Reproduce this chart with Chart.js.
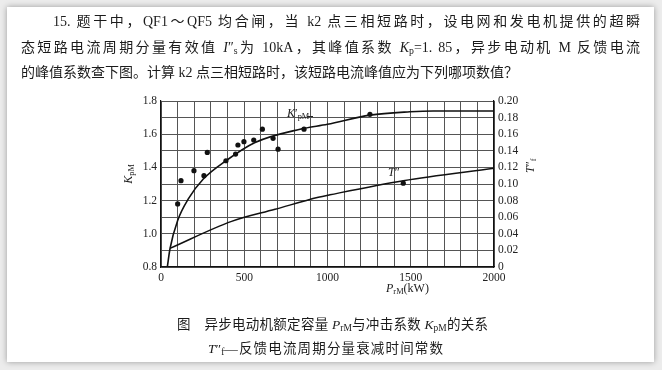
<!DOCTYPE html>
<html>
<head>
<meta charset="utf-8">
<script src="https://cdn.jsdelivr.net/npm/chart.js@4"></script>
<style>
body { margin: 0; width: 662px; height: 370px; overflow: hidden; position: relative; background: #ececec;
  font-family: "Liberation Serif", "Noto Sans CJK SC", serif; color: #1b1b1b; }
#card { position: absolute; left: 7px; top: 7px; width: 647px; height: 355px; background: #fff;
  box-shadow: 0 0 6px rgba(0,0,0,0.35); }
#chart { position: absolute; left: 0; top: 0; }
.t { position: absolute; white-space: nowrap; line-height: 20px; }
.q { font-size: 14px; text-align: justify; text-align-last: justify; }
.cap { font-size: 13.5px; text-align: justify; text-align-last: justify; }
.lab { font-size: 12px; line-height: 14px; }
sub { font-size: 70%; vertical-align: -0.25em; line-height: 0; }
i { font-style: italic; }
#ttl { position: absolute; left: 526px; top: 154px; width: 16px; height: 22px; font-size: 12px; line-height: 14px;
  transform: rotate(-90deg); white-space: nowrap; }
</style>
</head>
<body>
<div id="card"></div>
<canvas id="chart" width="662" height="370"></canvas>

<div class="t q" style="left:53px; top:12px; width:587px;">15. 题干中，QF1～QF5 均合闸，当 k2 点三相短路时，设电网和发电机提供的超瞬</div>
<div class="t q" style="left:21px; top:38px; width:619px;">态短路电流周期分量有效值 <i>I</i>″<sub>s</sub>为 10kA，其峰值系数 <i>K</i><sub>p</sub>=1. 85，异步电动机 M 反馈电流</div>
<div class="t" style="left:21px; top:63px; font-size:14px;">的峰值系数查下图。计算 k2 点三相短路时，该短路电流峰值应为下列哪项数值？</div>

<div class="t lab" style="left:110px; top:167px; width:36px; text-align:center; transform:rotate(-90deg);"><i>K</i><sub>pM</sub></div>
<div id="ttl"><i>T</i>″<sub>f</sub></div>
<div class="t lab" style="left:386px; top:281px;"><i>P</i><sub>rM</sub>(kW)</div>
<div class="t lab" style="left:287px; top:106px;"><i>K</i>′<sub>pM</sub></div>
<div style="position:absolute; left:307px; top:116px; width:6px; height:1px; background:#222;"></div>
<div class="t lab" style="left:388px; top:165px;"><i>T</i>″</div>

<div class="t cap" style="left:177px; top:315px; width:311px;">图　异步电动机额定容量 <i>P</i><sub>rM</sub>与冲击系数 <i>K</i><sub>pM</sub>的关系</div>
<div class="t cap" style="left:208px; top:339px; width:235px;"><i>T</i>″<sub>f</sub>—反馈电流周期分量衰减时间常数</div>

<script>
// K'pM curve and measured points (left axis)
const kCurvePower = [38, 54, 100, 164, 254, 390, 565, 835, 1000, 1255, 1495, 1635, 2000];
const kCurveValue = [0.80, 0.91, 1.08, 1.21, 1.33, 1.44, 1.55, 1.63, 1.66, 1.715, 1.735, 1.74, 1.74];
const kPointPower = [100, 120, 198, 258, 278, 390, 448, 462, 498, 557, 609, 673, 703, 859, 1255];
const kPointValue = [1.18, 1.32, 1.38, 1.35, 1.49, 1.44, 1.48, 1.535, 1.555, 1.565, 1.63, 1.575, 1.51, 1.63, 1.72];

// T''f curve and point (right axis)
const tCurvePower = [54, 424, 685, 945, 1015, 1455, 2000];
const tCurveValue = [0.0225, 0.055, 0.0695, 0.084, 0.087, 0.104, 0.119];
const tPointPower = [1455];
const tPointValue = [0.101];

const xTickLabels = [0, 500, 1000, 1500, 2000];
const kTickLabels = [0.8, 1.0, 1.2, 1.4, 1.6, 1.8];

const pts = (xs, ys) => xs.map((x, i) => ({ x: x, y: ys[i] }));
const tickFont = { family: 'Liberation Serif', size: 11.5 };
const gridColor = '#555';

new Chart(document.getElementById('chart').getContext('2d'), {
    type: 'scatter',
    data: {
        datasets: [
            { data: pts(kCurvePower, kCurveValue), showLine: true, borderColor: '#111', borderWidth: 1.6,
              pointRadius: 0, cubicInterpolationMode: 'monotone', yAxisID: 'y' },
            { data: pts(kPointPower, kPointValue), pointRadius: 2.6, backgroundColor: '#111',
              borderWidth: 0, yAxisID: 'y' },
            { data: pts(tCurvePower, tCurveValue), showLine: true, borderColor: '#111', borderWidth: 1.5,
              pointRadius: 0, cubicInterpolationMode: 'monotone', yAxisID: 'y2' },
            { data: pts(tPointPower, tPointValue), pointRadius: 2.6, backgroundColor: '#111',
              borderWidth: 0, yAxisID: 'y2' }
        ]
    },
    options: {
        responsive: false,
        animation: false,
        layout: { padding: { top: 101, left: 0, right: 0, bottom: 0 } },
        plugins: { legend: { display: false }, tooltip: { enabled: false } },
        scales: {
            x: {
                type: 'linear', min: 0, max: 2000,
                ticks: { stepSize: 100, autoSkip: false, maxRotation: 0, padding: 4, color: '#222', font: tickFont,
                    callback: v => xTickLabels.includes(v) ? String(v) : '' },
                grid: { color: gridColor, drawTicks: false },
                border: { color: '#111', width: 1.2 },
                afterFit: s => { s.height = 103; }
            },
            y: {
                position: 'left', min: 0.8, max: 1.8,
                ticks: { stepSize: 0.1, autoSkip: false, padding: 4, color: '#222', font: tickFont,
                    callback: v => {
                        const r = Math.round(v * 10) / 10;
                        return kTickLabels.some(k => Math.abs(k - r) < 1e-6) ? r.toFixed(1) : '';
                    } },
                grid: { color: gridColor, drawTicks: false },
                border: { color: '#111', width: 1.2 },
                afterFit: s => { s.width = 161; }
            },
            y2: {
                position: 'right', min: 0, max: 0.2,
                ticks: { stepSize: 0.02, autoSkip: false, padding: 4, color: '#222', font: tickFont,
                    callback: v => Math.abs(v) < 1e-9 ? '0' : v.toFixed(2) },
                grid: { drawOnChartArea: false, drawTicks: false },
                border: { color: '#111', width: 1.2 },
                afterFit: s => { s.width = 168; }
            }
        }
    }
});
</script>
</body>
</html>
